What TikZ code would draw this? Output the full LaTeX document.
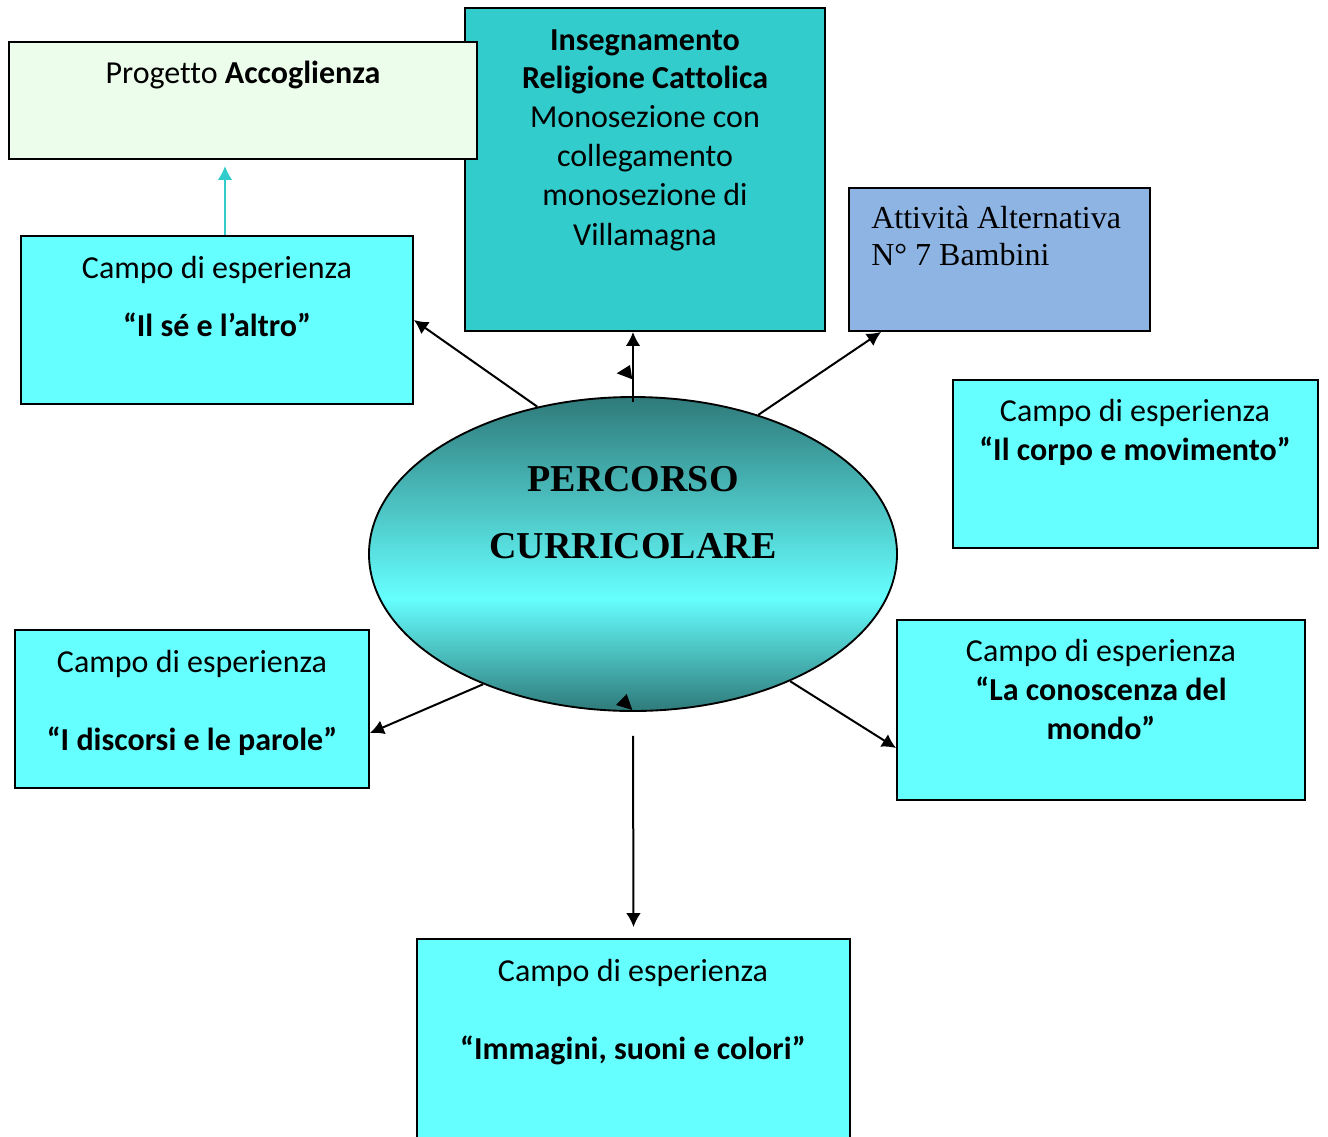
\documentclass[tikz,border=0pt]{standalone}
\usepackage{fontspec}
\setmainfont{Carlito}[Ligatures=NoCommon]
\newfontfamily\tms{Liberation Serif}
\usetikzlibrary{shapes.geometric,arrows.meta,calc}
\definecolor{accfill}{HTML}{EDFDEC}
\definecolor{insfill}{HTML}{33CCCC}
\definecolor{attfill}{HTML}{8EB4E3}
\definecolor{cyanfill}{HTML}{66FFFF}
\definecolor{elldark}{HTML}{2F7A7A}
\definecolor{ellmid}{HTML}{66FFFF}
\pgfdeclareverticalshading{ellsh}{100bp}{color(0bp)=(elldark); color(25bp)=(elldark); color(43bp)=(ellmid); color(75bp)=(elldark); color(100bp)=(elldark)}
\tikzset{
  box/.style={draw=black, line width=1.4pt, rectangle, inner sep=0pt},
  txt/.style={anchor=base, inner sep=0pt, font=\fontsize{24pt}{29pt}\selectfont},
  stxt/.style={anchor=base west, inner sep=0pt, font=\tms\fontsize{24pt}{28pt}\selectfont},
  etxt/.style={anchor=base, inner sep=0pt, font=\tms\bfseries\fontsize{28.5pt}{34pt}\selectfont},
  arr/.style={draw=black, line width=1.5pt, -{Latex[length=10.5pt,width=11pt]}},
  carr/.style={draw=insfill, line width=1.5pt, -{Latex[length=10.5pt,width=11pt]}},
}
\begin{document}
\begin{tikzpicture}[x=0.75pt,y=-0.75pt]
\useasboundingbox (0,0) rectangle (1328,1136);
% boxes
\node[box, fill=insfill, minimum width=270pt, minimum height=242.25pt] (ins) at (645,169.5) {};
\node[box, fill=accfill, minimum width=351pt, minimum height=87.75pt] (acc) at (243,100.5) {};
\node[box, fill=attfill, minimum width=225.75pt, minimum height=107.25pt] (att) at (999.5,259.5) {};
\node[box, fill=cyanfill, minimum width=294pt, minimum height=126pt] (ilse) at (217,320) {};
\node[box, fill=cyanfill, minimum width=273.75pt, minimum height=126pt] (corpo) at (1135.5,464) {};
\node[box, fill=cyanfill, minimum width=265.5pt, minimum height=118.5pt] (disc) at (192,709) {};
\node[box, fill=cyanfill, minimum width=306pt, minimum height=135pt] (con) at (1101,710) {};
\node[box, fill=cyanfill, minimum width=324.75pt, minimum height=150.75pt] (imm) at (633.5,1039.5) {};
% ellipse
\node[ellipse, draw=black, line width=1.4pt, shading=ellsh, minimum width=396pt, minimum height=235.5pt, inner sep=0pt] (ell) at (633,554) {};
% texts
\node[txt] (acct) at (243,83) {Progetto \textbf{Accoglienza}};
\node[txt] (ins1) at (645,50) {\textbf{Insegnamento}};
\node[txt] (ins2) at (645,88) {\textbf{Religione Cattolica}};
\node[txt] (ins3) at (645,127) {Monosezione con};
\node[txt] (ins4) at (645,166) {collegamento};
\node[txt] (ins5) at (645,205) {monosezione di};
\node[txt] (ins6) at (645,245) {Villamagna};
\node[stxt] (att1) at (871,228) {Attività Alternativa};
\node[stxt] (att2) at (871,265) {N° 7 Bambini};
\node[txt] (ilse1) at (217,278) {Campo di esperienza};
\node[txt] (ilse2) at (217,336) {\textbf{“Il sé e l’altro”}};
\node[txt] (corpo1) at (1135,421) {Campo di esperienza};
\node[txt] (corpo2) at (1135,460) {\textbf{“Il corpo e movimento”}};
\node[txt] (disc1) at (192,672) {Campo di esperienza};
\node[txt] (disc2) at (192,750) {\textbf{“I discorsi e le parole”}};
\node[txt] (con1) at (1101,661) {Campo di esperienza};
\node[txt] (con2) at (1101,700) {\textbf{“La conoscenza del}};
\node[txt] (con3) at (1101,739) {\textbf{mondo”}};
\node[txt] (imm1) at (633,981) {Campo di esperienza};
\node[txt] (imm2) at (633,1059) {\textbf{“Immagini, suoni e colori”}};
\node[etxt] (ell1) at (633,491) {PERCORSO};
\node[etxt] (ell2) at (633,558) {CURRICOLARE};
% connectors
\coordinate (cTopEnd) at (ell.north |- ins.south);
\draw[arr] ($(ell.north)+(0,6)$) -- (cTopEnd);
\draw[arr] (ell.123) -- (ilse.east);
\coordinate (cAtt) at ($(att.south west)+(33,0)$);
\draw[arr] (ell.48) -- (cAtt);
\coordinate (cDisc) at ($(disc.east)+(0,24)$);
\draw[arr] (ell.221) -- (cDisc);
\coordinate (cCon) at ($(con.west)+(0,38)$);
\draw[arr] (ell.321) -- (cCon);
\coordinate (cBotStart) at ($(ell.south)+(0,24)$);
\coordinate (cBotEnd) at ($(imm.north)+(0,-11)$);
\draw[arr] (cBotStart) -- (cBotEnd);
\coordinate (cIlseTop) at ($(ilse.north)+(8,0)$);
\coordinate (cAccBot) at ($(cIlseTop |- acc.south)+(0,6)$);
\draw[carr] (cIlseTop) -- (cAccBot);
% stray arrowheads
\fill[black] (616.7,373.3) -- (630,365) -- (632.3,379.3) -- cycle;
\fill[black] (616,705) -- (626.7,694) -- (632.3,710) -- cycle;
\end{tikzpicture}
\end{document}
